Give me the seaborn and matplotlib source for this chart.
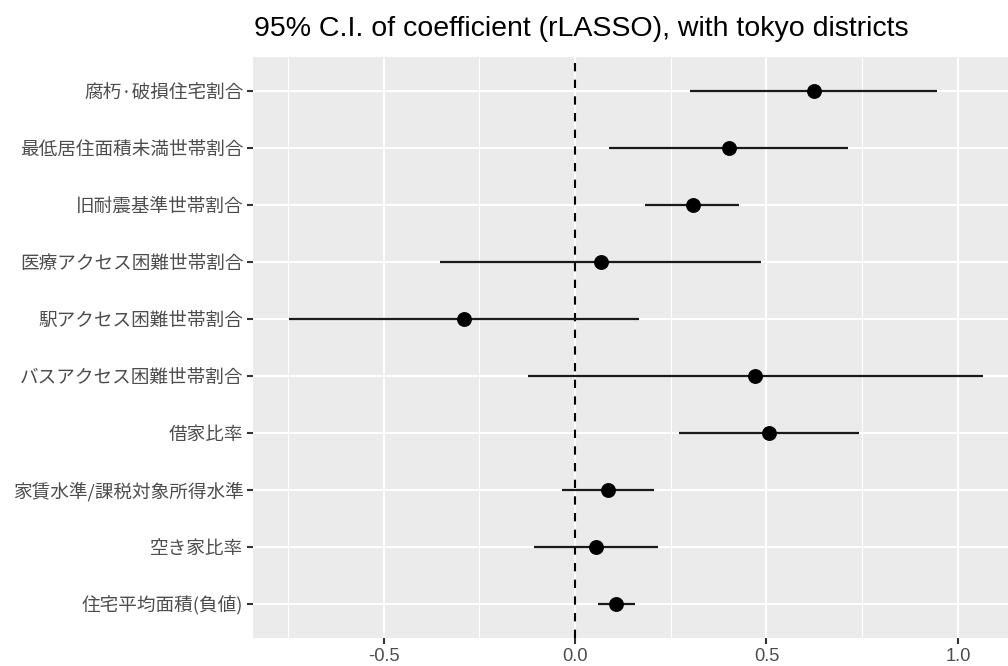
import matplotlib
matplotlib.use("Agg")
import matplotlib.pyplot as plt
from matplotlib.ticker import FixedLocator
import pandas as pd
import seaborn as sns

# Coefficient estimates with 95% confidence bounds (rLASSO), top row first
variables = [
    "腐朽·破損住宅割合",
    "最低居住面積未満世帯割合",
    "旧耐震基準世帯割合",
    "医療アクセス困難世帯割合",
    "駅アクセス困難世帯割合",
    "バスアクセス困難世帯割合",
    "借家比率",
    "家賃水準/課税対象所得水準",
    "空き家比率",
    "住宅平均面積(負値)",
]
estimate = [0.623, 0.402, 0.307, 0.067, -0.289, 0.471, 0.507, 0.085, 0.055, 0.108]
ci_low = [0.300, 0.089, 0.183, -0.353, -0.747, -0.122, 0.272, -0.035, -0.106, 0.059]
ci_high = [0.945, 0.714, 0.429, 0.485, 0.168, 1.065, 0.742, 0.206, 0.216, 0.157]

x_major = [-0.5, 0.0, 0.5, 1.0]
x_major_labels = ["-0.5", "0.0", "0.5", "1.0"]
x_minor = [-0.75, -0.25, 0.25, 0.75]

title = "95% C.I. of coefficient (rLASSO), with tokyo districts"

df = pd.DataFrame({"variable": variables, "estimate": estimate,
                   "lo": ci_low, "hi": ci_high})

sns.set_theme(style="darkgrid", rc={
    "axes.facecolor": "#EBEBEB",
    "figure.facecolor": "white",
    "grid.color": "white",
    "axes.edgecolor": "#EBEBEB",
    "axes.linewidth": 0,
    "xtick.bottom": True,
    "ytick.left": True,
})
plt.rcParams["font.family"] = ["Liberation Sans", "Noto Sans CJK JP", "DejaVu Sans"]

fig = plt.figure(figsize=(10.08, 6.66), dpi=100)
ax = fig.add_axes([253.3 / 1008, 1 - 638 / 666, 1 - 253.3 / 1008, (638 - 56.7) / 666])

pos = list(range(len(variables)))

# confidence interval segments
ax.hlines(pos, df["lo"], df["hi"], color="#1a1a1a", linewidth=1.6, zorder=3)

# point estimates
sns.scatterplot(data=df, x="estimate", y="variable", ax=ax, color="black",
                s=115, edgecolor="black", linewidth=0, zorder=4, legend=False)

# reference line at zero
ax.axvline(0, color="black", linewidth=1.5, linestyle=(0, (4, 4)), zorder=2.5)

ax.set_xlim(-0.8406, 1.131)
ax.set_ylim(len(variables) - 0.4, -0.6)

ax.xaxis.set_major_locator(FixedLocator(x_major))
ax.xaxis.set_minor_locator(FixedLocator(x_minor))
ax.set_xticklabels(x_major_labels)
ax.set_yticks(pos)
ax.set_yticklabels(variables, family=["Noto Sans CJK JP", "DejaVu Sans"])

ax.grid(which="major", color="white", linewidth=1.5)
ax.grid(which="minor", axis="x", color="white", linewidth=0.75)
ax.set_axisbelow(True)

ax.tick_params(axis="both", which="major", length=4, width=1.5, color="#333333",
               labelcolor="#4D4D4D", pad=3.2)
ax.tick_params(axis="x", which="major", labelsize=13.2)
ax.tick_params(axis="y", which="major", labelsize=13.4)
ax.tick_params(axis="x", which="minor", length=0)
ax.set_xlabel("")
ax.set_ylabel("")
for s in ax.spines.values():
    s.set_visible(False)

fig.text(253.5 / 1008, 1 - 36 / 666, title, fontsize=20.5, color="black",
         ha="left", va="baseline", family=["Liberation Sans", "DejaVu Sans"])

fig.savefig("out.png", dpi=100)
